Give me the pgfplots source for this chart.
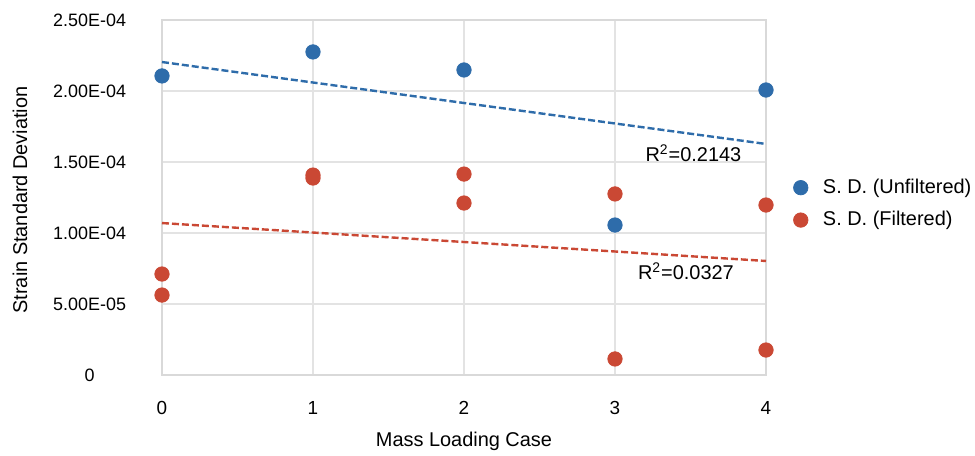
\documentclass[border=0pt]{standalone}
\usepackage{fontspec}
\setmainfont{Liberation Sans}
\usepackage{pgfplots}
\pgfplotsset{compat=1.18}

\definecolor{sdblue}{RGB}{46,108,170}
\definecolor{sdred}{RGB}{202,72,52}
\newcommand{\yl}[1]{\makebox[40bp][c]{#1}}

\begin{document}
\begin{tikzpicture}
\begin{axis}[
    scale only axis,
    width=302bp,
    height=177.5bp,
    xmin=0, xmax=4,
    ymin=0, ymax=2.5e-4,
    xtick={0,1,2,3,4},
    xticklabels={0,1,2,3,4},
    ytick={0,5e-5,1e-4,1.5e-4,2e-4,2.5e-4},
    yticklabels={\yl{0},\yl{5.00E-05},\yl{1.00E-04},\yl{1.50E-04},\yl{2.00E-04},\yl{2.50E-04}},
    scaled y ticks=false,
    major tick length=0pt,
    grid=major,
    grid style={draw=gray!22, line width=0.6pt},
    axis line style={draw=gray!30, line width=0.6pt},
    xticklabel style={font=\fontsize{9.5}{11}\selectfont, anchor=center, yshift=-16.5bp},
    yticklabel style={font=\fontsize{9}{11}\selectfont, inner sep=0pt, anchor=east, xshift=-16bp},
    xlabel={Mass Loading Case},
    ylabel={Strain Standard Deviation},
    xlabel style={font=\fontsize{10}{12}\selectfont, at={(axis description cs:0.5,0)}, anchor=center, yshift=-33bp},
    ylabel style={font=\fontsize{10}{12}\selectfont, at={(axis description cs:-0.235,0.493)}, anchor=center},
    legend style={draw=none, fill=none, at={(rel axis cs:1.045,0.482)}, anchor=west,
        font=\fontsize{10}{12}\selectfont, row sep=3.5bp, inner sep=0pt},
    legend cell align=left,
    clip=false,
]

% unfiltered
\addplot[only marks, mark=*, mark size=3.6bp, color=sdblue] coordinates {
    (0,2.106e-4) (1,2.275e-4) (2,2.148e-4) (3,1.056e-4) (4,2.007e-4)
};
\addlegendentry{\hspace{5.5bp}S. D. (Unfiltered)}

% filtered
\addplot[only marks, mark=*, mark size=3.6bp, color=sdred] coordinates {
    (0,0.711e-4) (0,0.563e-4)
    (1,1.408e-4) (1,1.387e-4)
    (2,1.415e-4) (2,1.211e-4)
    (3,1.275e-4) (3,0.113e-4)
    (4,1.197e-4) (4,0.176e-4)
};
\addlegendentry{\hspace{5.5bp}S. D. (Filtered)}

% linear trendlines
\addplot[sdblue, line width=1.2bp, dash pattern=on 3.5bp off 1.5bp, forget plot] coordinates {
    (0,2.204e-4) (4,1.627e-4)
};
\addplot[sdred, line width=1.2bp, dash pattern=on 3.5bp off 1.5bp, forget plot] coordinates {
    (0,1.070e-4) (4,0.803e-4)
};

\node[anchor=west, font=\fontsize{10}{12}\selectfont, inner sep=0pt] at (axis cs:3.2,1.563e-4) {R\textsuperscript{2}=0.2143};
\node[anchor=west, font=\fontsize{10}{12}\selectfont, inner sep=0pt] at (axis cs:3.15,0.732e-4) {R\textsuperscript{2}=0.0327};

\end{axis}
\pgfresetboundingbox
\path (current axis.south west) ++(-81bp,-40.5bp) rectangle ++(487.5bp,228bp);
\end{tikzpicture}
\end{document}
